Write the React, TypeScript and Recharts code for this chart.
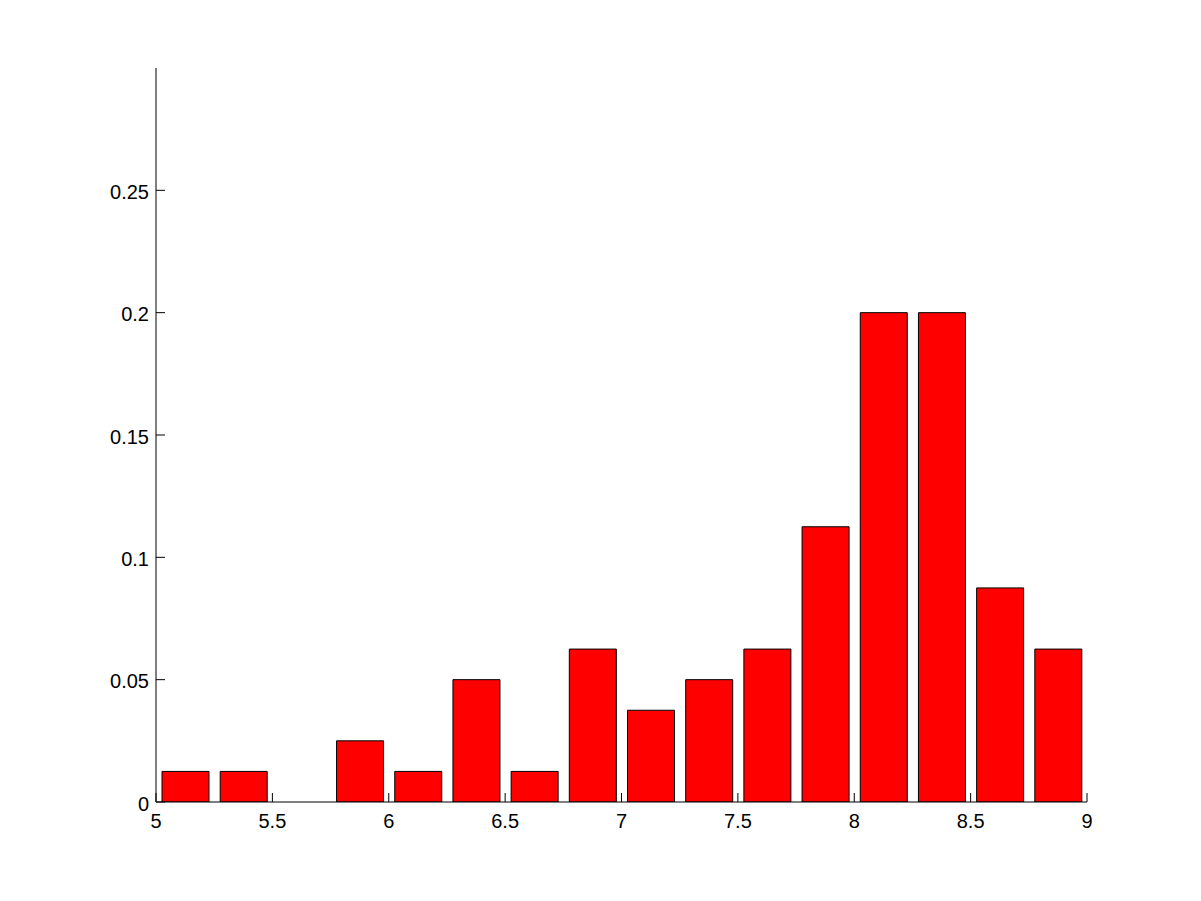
import React from "react";
import { BarChart, Bar, XAxis, YAxis } from "recharts";

const binCenters = [5.125, 5.375, 5.625, 5.875, 6.125, 6.375, 6.625, 6.875, 7.125, 7.375, 7.625, 7.875, 8.125, 8.375, 8.625, 8.875];
const frequencies = [0.0125, 0.0125, 0, 0.025, 0.0125, 0.05, 0.0125, 0.0625, 0.0375, 0.05, 0.0625, 0.1125, 0.2, 0.2, 0.0875, 0.0625];
const xTicks = [5, 5.5, 6, 6.5, 7, 7.5, 8, 8.5, 9];
const yTicks = [0, 0.05, 0.1, 0.15, 0.2, 0.25];

const data = binCenters.map((x, i) => ({ x, y: frequencies[i] }));

const FF = "'Liberation Sans', Arial, sans-serif";
const FS = 20;

const XTick = (props: any) => {
  const { x, y, payload } = props;
  return (
    <text x={x} y={y + 26} textAnchor="middle" fontFamily={FF} fontSize={FS} fill="#000">
      {String(payload.value)}
    </text>
  );
};

const YTick = (props: any) => {
  const { x, y, payload } = props;
  return (
    <text x={x - 7} y={y + 8.5} textAnchor="end" fontFamily={FF} fontSize={FS} fill="#000">
      {String(payload.value)}
    </text>
  );
};

export default function App() {
  return (
    <div style={{ position: "absolute", left: 0, top: 0, width: 1201, height: 901, background: "#fff" }}>
      <BarChart
        width={1201}
        height={901}
        data={data}
        margin={{ top: 68, right: 114, bottom: 59, left: 96 }}
      >
        <XAxis
          dataKey="x"
          type="number"
          domain={[5, 9]}
          ticks={xTicks}
          allowDataOverflow
          height={40}
          tickSize={-9}
          tickMargin={9}
          axisLine={{ stroke: "#000", strokeWidth: 1 }}
          tickLine={{ stroke: "#000", strokeWidth: 1 }}
          tick={<XTick />}
        />
        <YAxis
          type="number"
          domain={[0, 0.3]}
          ticks={yTicks}
          allowDataOverflow
          width={60}
          tickSize={-9}
          tickMargin={9}
          axisLine={{ stroke: "#000", strokeWidth: 1 }}
          tickLine={{ stroke: "#000", strokeWidth: 1 }}
          tick={<YTick />}
        />
        <Bar dataKey="y" fill="#ff0000" stroke="#000" strokeWidth={1} barSize={47} isAnimationActive={false} />
      </BarChart>
    </div>
  );
}
